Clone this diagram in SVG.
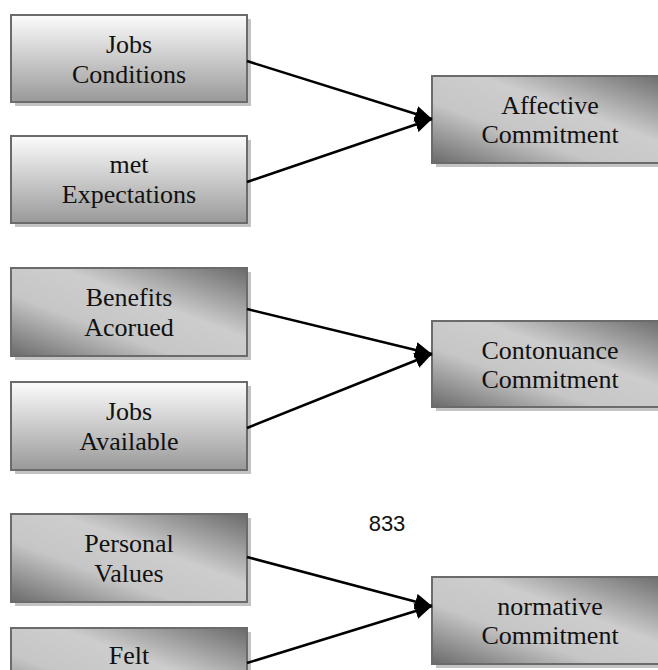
<svg xmlns="http://www.w3.org/2000/svg" width="658" height="670" viewBox="0 0 658 670">
<defs>
<linearGradient id="gv" x1="0" y1="0" x2="0" y2="1">
<stop offset="0" stop-color="#fcfcfc"/>
<stop offset="1" stop-color="#999999"/>
</linearGradient>
<linearGradient id="gd" x1="0" y1="1" x2="1" y2="0">
<stop offset="0" stop-color="#6a6a6a"/>
<stop offset="0.35" stop-color="#c6c6c6"/>
<stop offset="0.6" stop-color="#cdcdcd"/>
<stop offset="1" stop-color="#6a6a6a"/>
</linearGradient>
<marker id="ah" markerUnits="userSpaceOnUse" markerWidth="18" markerHeight="16" refX="17" refY="8" orient="auto">
<path d="M0,0 L17,8 L0,16 Z" fill="#000"/>
</marker>
<style>
.sh{fill:#c3c3c3}
.bx{stroke:#6b6b6b;stroke-width:2}
.v{fill:url(#gv)}
.d{fill:url(#gd)}
text{font-family:"Liberation Serif","Times New Roman",serif;font-size:26px;fill:#111;text-anchor:middle}
.cn line{stroke:#000;stroke-width:2.5;marker-end:url(#ah)}
</style>
</defs>
<rect width="658" height="670" fill="#fff"/>
<g id="n1"><rect class="sh" x="15" y="19" width="236" height="87"/><rect class="bx v" x="11" y="15" width="236" height="87"/><text x="129" y="53">Jobs</text><text x="129" y="83">Conditions</text></g>
<g id="n2"><rect class="sh" x="15" y="140" width="236" height="87"/><rect class="bx v" x="11" y="136" width="236" height="87"/><text x="129" y="173">met</text><text x="129" y="203">Expectations</text></g>
<g id="n3"><rect class="sh" x="436" y="80" width="236" height="87"/><rect class="bx d" x="432" y="76" width="236" height="87"/><text x="550" y="114">Affective</text><text x="550" y="143">Commitment</text></g>
<g id="n4"><rect class="sh" x="15" y="272" width="236" height="88"/><rect class="bx d" x="11" y="268" width="236" height="88"/><text x="129" y="306">Benefits</text><text x="129" y="336">Acorued</text></g>
<g id="n5"><rect class="sh" x="15" y="386" width="236" height="88"/><rect class="bx v" x="11" y="382" width="236" height="88"/><text x="129" y="420">Jobs</text><text x="129" y="450">Available</text></g>
<g id="n6"><rect class="sh" x="436" y="325" width="236" height="86"/><rect class="bx d" x="432" y="321" width="236" height="86"/><text x="550" y="359">Contonuance</text><text x="550" y="388">Commitment</text></g>
<g id="n7"><rect class="sh" x="15" y="518" width="236" height="88"/><rect class="bx d" x="11" y="514" width="236" height="88"/><text x="129" y="552">Personal</text><text x="129" y="582">Values</text></g>
<g id="n8"><rect class="sh" x="15" y="632" width="236" height="88"/><rect class="bx d" x="11" y="628" width="236" height="88"/><text x="129" y="664">Felt</text></g>
<g id="n9"><rect class="sh" x="436" y="581" width="236" height="87"/><rect class="bx d" x="432" y="577" width="236" height="87"/><text x="550" y="615">normative</text><text x="550" y="644">Commitment</text></g>
<text x="387" y="531" style="font-family:'Liberation Sans',Arial,sans-serif;font-size:22px">833</text>
<g class="cn">
<line x1="247" y1="61" x2="432" y2="119"/>
<line x1="247" y1="182" x2="432" y2="119"/>
<line x1="247" y1="309" x2="432" y2="354"/>
<line x1="247" y1="428" x2="432" y2="354"/>
<line x1="247" y1="557" x2="432" y2="606"/>
<line x1="247" y1="663" x2="432" y2="606"/>
</g>
</svg>
